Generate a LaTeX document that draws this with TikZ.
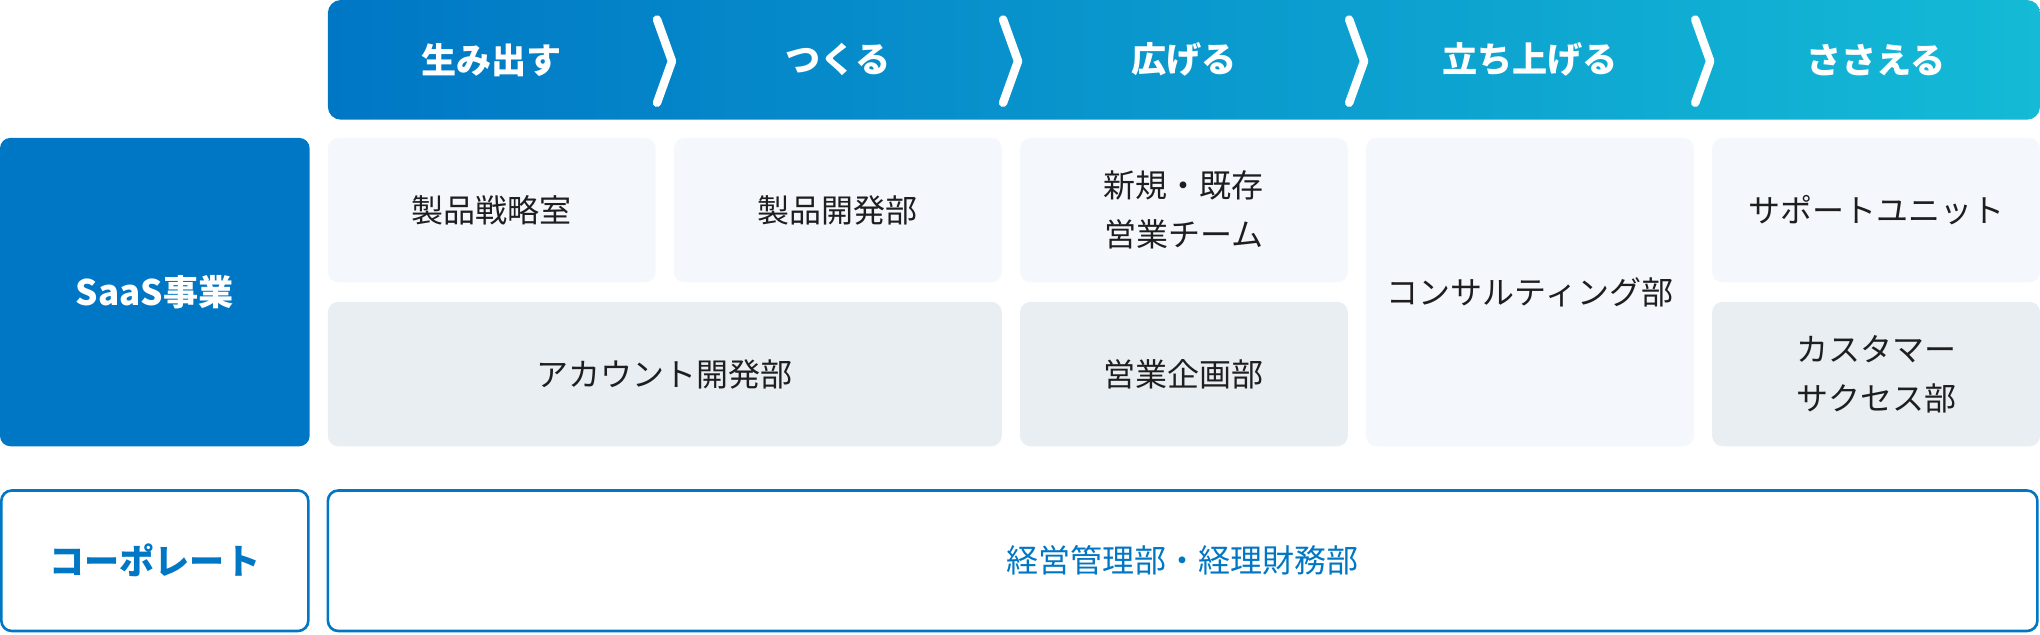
\documentclass[tikz,border=0pt]{standalone}
\usepackage{fontspec}
\setmainfont{Noto Sans CJK JP}
\usepackage{tikz}
\usetikzlibrary{positioning}

\definecolor{brand}{HTML}{0077C5}
\definecolor{brandlight}{HTML}{14BAD6}
\definecolor{celltop}{HTML}{F4F7FC}
\definecolor{cellbot}{HTML}{E9EEF2}
\definecolor{ink}{HTML}{1E1E1E}

\tikzset{
  unit/.style={rounded corners=8pt, inner sep=0pt, outer sep=0pt, align=center,
    text=ink, font=\fontsize{24.6}{38}\selectfont},
  unittop/.style={unit, fill=celltop, minimum width=252pt, minimum height=111pt},
  unitbot/.style={unittop, fill=cellbot},
  unitwide/.style={unitbot, minimum width=518pt},
  unitfull/.style={unittop, minimum height=237pt},
  division/.style={rounded corners=8pt, inner sep=0pt, outer sep=0pt,
    minimum width=238pt, font=\fontsize{27}{32}\selectfont\bfseries},
  band/.style={rounded corners=8pt, inner sep=0pt, outer sep=0pt, draw=brand,
    line width=2pt, fill=white, text=brand, font=\fontsize{24.6}{32}\selectfont}
}

\begin{document}
\begin{tikzpicture}[x=1pt,y=-1pt]
\useasboundingbox (0,0) rectangle (1568,488);

% value chain header
\node[rounded corners=10pt, inner sep=0pt, outer sep=0pt, left color=brand,
  right color=brandlight, minimum width=1316pt, minimum height=92pt,
  anchor=north west] (flow) at (252,0) {};
\foreach \lbl [count=\i] in {生み出す,つくる,広げる,立ち上げる,ささえる}
  \node[text=white, font=\fontsize{27}{32}\selectfont\bfseries] (phase\i)
    at ({378+266*(\i-1)},46) {\lbl};
\foreach \i in {1,...,4}
  \draw[white, line width=6.5pt, line cap=round, line join=round]
    ({505+266*(\i-1)},15) -- ({516.5+266*(\i-1)},47) -- ({505+266*(\i-1)},79);

% divisions
\node[division, fill=brand, text=white, minimum height=237pt] (saas) at (119,224.5) {SaaS事業};
\node[division, draw=brand, line width=2pt, fill=white, text=brand,
  minimum width=236pt, minimum height=108pt] (corp) at (119,431) {コーポレート};

% SaaS units
\node[unittop] (strategy) at (378,161.5) {製品戦略室};
\node[unittop, right=14pt of strategy] (product) {製品開発部};
\node[unittop, right=14pt of product] (sales) {新規・既存\\営業チーム};
\node[unitfull, right=14pt of sales.north east, anchor=north west] (consult) {コンサルティング部};
\node[unittop, right=14pt of consult.north east, anchor=north west] (support) {サポートユニット};
\node[unitwide, below=15pt of strategy.south west, anchor=north west] (account) {アカウント開発部};
\node[unitbot, below=15pt of sales] (planning) {営業企画部};
\node[unitbot, below=15pt of support] (success) {カスタマー\\サクセス部};

% corporate units
\node[band, minimum width=1314pt, minimum height=108pt, right=15pt of corp] (admin) {経営管理部・経理財務部};
\end{tikzpicture}
\end{document}
